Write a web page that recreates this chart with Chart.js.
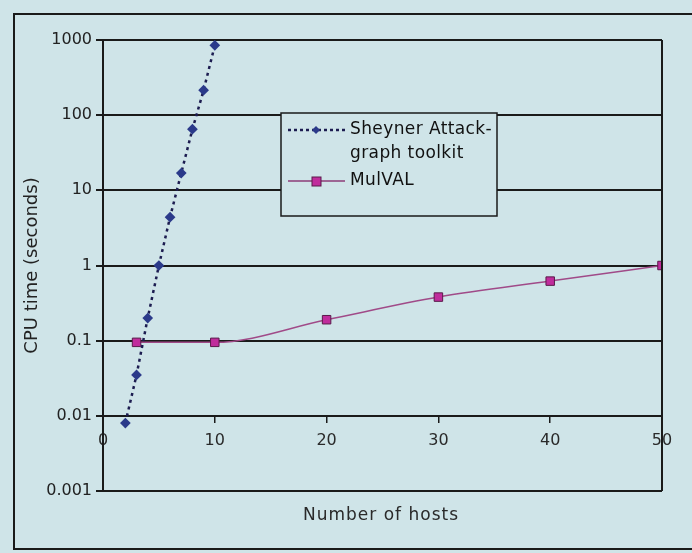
<!DOCTYPE html>
<html>
<head>
<meta charset="utf-8">
<script src="https://cdn.jsdelivr.net/npm/chart.js@4/dist/chart.umd.min.js"></script>
<style>
  html, body { margin: 0; padding: 0; background: #cfe4e8; }
  canvas { display: block; }
</style>
</head>
<body>
<canvas id="chart" width="692" height="553"></canvas>
<script>
// Data
const sheynerHosts = [2, 3, 4, 5, 6, 7, 8, 9, 10];
const sheynerTimes = [0.008, 0.035, 0.2, 1, 4.4, 17, 65, 215, 850];
const mulvalHosts = [3, 10, 20, 30, 40, 50];
const mulvalTimes = [0.095, 0.095, 0.19, 0.38, 0.62, 1.0];
const yTickValues = [0.001, 0.01, 0.1, 1, 10, 100, 1000];
const yTickLabels = ["0.001", "0.01", "0.1", "1", "10", "100", "1000"];
const seriesNames = [["Sheyner Attack-", "graph toolkit"], ["MulVAL"]];

const ink = "#1a1a1a";
const font = "'DejaVu Sans', Verdana, sans-serif";

function toPoints(xs, ys) {
  return xs.map((x, i) => ({ x: x, y: ys[i] }));
}

// frame, right border, x title and the boxed legend
const decorations = {
  id: "decorations",
  beforeDraw(chart) {
    const c = chart.ctx;
    c.save();
    c.fillStyle = "#cfe4e8";
    c.fillRect(0, 0, chart.width, chart.height);
    c.strokeStyle = ink;
    c.lineWidth = 2;
    c.strokeRect(14, 14, chart.width + 20, chart.height - 18);
    c.restore();
  },
  afterDraw(chart) {
    const c = chart.ctx;
    const a = chart.chartArea;
    c.save();
    c.strokeStyle = ink;
    c.lineWidth = 2;
    c.beginPath();
    c.moveTo(a.right, a.top);
    c.lineTo(a.right, a.bottom);
    c.stroke();

    // x axis title
    c.fillStyle = "#2a2a2a";
    c.font = "17px " + font;
    c.letterSpacing = "1px";
    c.textAlign = "center";
    c.textBaseline = "middle";
    c.fillText("Number of hosts", 381, 516);

    // legend
    const lx = 281, ly = 113, lw = 216, lh = 103;
    c.fillStyle = "#cfe4e8";
    c.fillRect(lx, ly, lw, lh);
    c.lineWidth = 1.5;
    c.strokeRect(lx, ly, lw, lh);

    c.font = "17px " + font;
    c.letterSpacing = "0.4px";
    c.textAlign = "left";
    c.fillStyle = "#111";

    // Sheyner entry
    let y = 130;
    c.strokeStyle = "#1c1c50";
    c.lineWidth = 2.5;
    c.setLineDash([3, 3]);
    c.beginPath();
    c.moveTo(288, y);
    c.lineTo(345, y);
    c.stroke();
    c.setLineDash([]);
    c.fillStyle = "#2b3a8a";
    c.beginPath();
    c.moveTo(316, y - 4);
    c.lineTo(320, y);
    c.lineTo(316, y + 4);
    c.lineTo(312, y);
    c.closePath();
    c.fill();
    c.fillStyle = "#111";
    c.fillText(seriesNames[0][0], 350, y);
    c.fillText(seriesNames[0][1], 350, y + 24);

    // MulVAL entry
    y = 181;
    c.strokeStyle = "#8c3c78";
    c.lineWidth = 1.5;
    c.beginPath();
    c.moveTo(288, y);
    c.lineTo(345, y);
    c.stroke();
    c.fillStyle = "#c02c9c";
    c.fillRect(312, y - 4, 9, 9);
    c.strokeStyle = "#5a1a4a";
    c.lineWidth = 1;
    c.strokeRect(312, y - 4, 9, 9);
    c.fillStyle = "#111";
    c.fillText(seriesNames[1][0], 350, y);
    c.restore();
  }
};

new Chart(document.getElementById("chart"), {
  type: "line",
  data: {
    datasets: [
      {
        label: "Sheyner Attack-graph toolkit",
        data: toPoints(sheynerHosts, sheynerTimes),
        borderColor: "#1c1c50",
        borderWidth: 2.5,
        borderDash: [3, 4],
        pointStyle: "rectRot",
        pointRadius: 3.6,
        pointBackgroundColor: "#2b3a8a",
        pointBorderColor: "#2b3a8a",
        tension: 0
      },
      {
        label: "MulVAL",
        data: toPoints(mulvalHosts, mulvalTimes),
        borderColor: "#a04a88",
        borderWidth: 1.5,
        pointStyle: "rect",
        pointRadius: 6,
        pointBackgroundColor: "#c02c9c",
        pointBorderColor: "#5a1a4a",
        pointBorderWidth: 1,
        cubicInterpolationMode: "monotone"
      }
    ]
  },
  options: {
    responsive: false,
    animation: false,
    devicePixelRatio: 1,
    layout: { padding: { left: 16, top: 40, right: 30, bottom: 62 } },
    plugins: {
      legend: { display: false },
      tooltip: { enabled: false }
    },
    scales: {
      x: {
        type: "linear",
        position: { y: 0.01 },
        min: 0,
        max: 50,
        afterFit: (s) => { s.height = 0; },
        ticks: {
          stepSize: 10,
          color: "#2a2a2a",
          font: { family: font, size: 16 },
          padding: 9
        },
        grid: { drawOnChartArea: false, drawTicks: true, tickLength: 6, color: ink, lineWidth: 1.5 },
        border: { display: true, color: ink, width: 2 }
      },
      y: {
        type: "logarithmic",
        min: 0.001,
        max: 1000,
        afterFit: (s) => { s.width = 87; },
        afterBuildTicks: (s) => { s.ticks = yTickValues.map((v) => ({ value: v })); },
        ticks: {
          color: "#222",
          font: { family: font, size: 16 },
          padding: 4,
          callback: (v) => {
            const i = yTickValues.indexOf(v);
            return i >= 0 ? yTickLabels[i] : "";
          }
        },
        grid: { color: ink, lineWidth: 2, tickLength: 7 },
        border: { display: true, color: ink, width: 2 },
        title: {
          display: true,
          text: "CPU time (seconds)",
          color: "#222",
          font: { family: font, size: 18 },
          padding: { top: 6, bottom: 0 }
        }
      }
    }
  },
  plugins: [decorations]
});
</script>
</body>
</html>
